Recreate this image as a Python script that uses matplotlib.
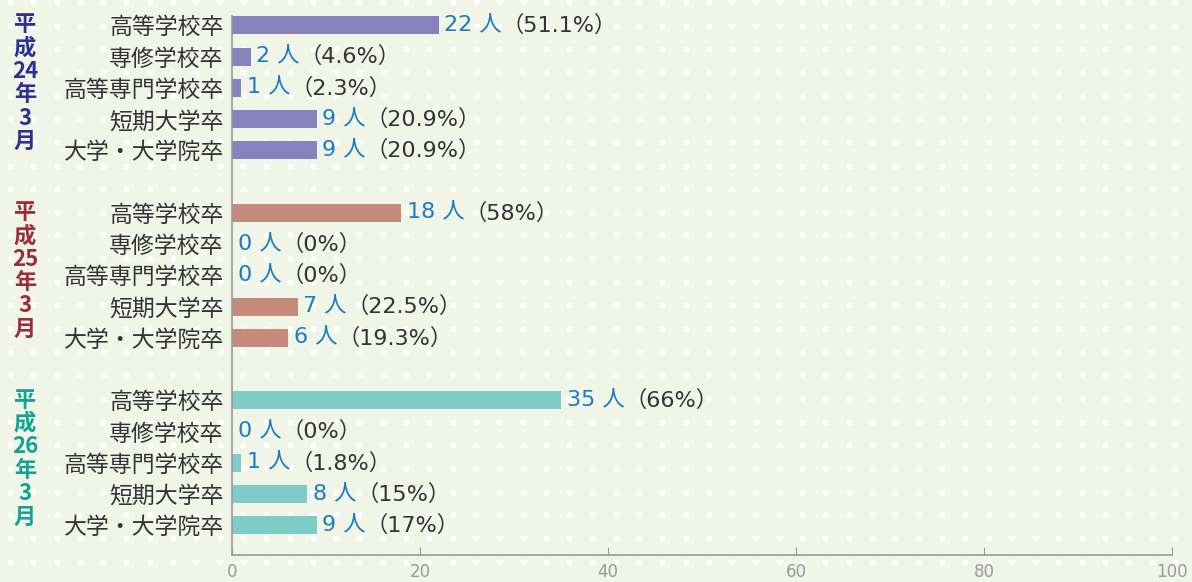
"""
卒業者の学歴別内訳（平成24〜26年3月）の横棒グラフ。
"""
import matplotlib.pyplot as plt
import numpy as np

plt.rcParams["font.family"] = ["Noto Sans CJK JP", "DejaVu Sans"]
FAM_NUM = ["DejaVu Sans", "Noto Sans CJK JP"]

# データ
GRUPOS = ["平\n成\n24\n年\n3\n月", "平\n成\n25\n年\n3\n月", "平\n成\n26\n年\n3\n月"]
CATEGORIAS = ["高等学校卒", "専修学校卒", "高等専門学校卒", "短期大学卒", "大学・大学院卒"]
VALORES_24 = [22, 2, 1, 9, 9]
VALORES_25 = [18, 0, 0, 7, 6]
VALORES_26 = [35, 0, 1, 8, 9]
PCT_24 = ["51.1%", "4.6%", "2.3%", "20.9%", "20.9%"]
PCT_25 = ["58%", "0%", "0%", "22.5%", "19.3%"]
PCT_26 = ["66%", "0%", "1.8%", "15%", "17%"]
XTICKS = [0, 20, 40, 60, 80, 100]

CORES_BARRA = ["#8981bd", "#c48b7d", "#7ecdc8"]
CORES_GRUPO = ["#2e3192", "#9b2d3d", "#12a393"]
AZUL = "#1a7cc1"
CINZA_TXT = "#333333"
CINZA_EIXO = "#9a9a9a"
FUNDO = "#f0f5e8"

W, H = 1192, 582
fig = plt.figure(figsize=(W / 100, H / 100), dpi=100, facecolor=FUNDO)

# fundo pontilhado
bg = fig.add_axes([0, 0, 1, 1], zorder=0)
bg.set_xlim(0, W); bg.set_ylim(H, 0); bg.axis("off")
px = np.arange(10, W, 23.3)
py = np.arange(2.4, H, 23.3)
gx, gy = np.meshgrid(px, py)
bg.scatter(gx.ravel(), gy.ravel(), s=19, color="white", linewidths=0)

ax = fig.add_axes([232 / W, 1 - 555 / H, 940 / W, (555 - 16) / H], zorder=1)
ax.set_facecolor("none")

valores = [VALORES_24, VALORES_25, VALORES_26]
pcts = [PCT_24, PCT_25, PCT_26]
ylabels, yticks = [], []
for g in range(3):
    base = g * 6
    ys = [base + i for i in range(len(CATEGORIAS))]
    ax.barh(ys, valores[g], height=0.58, color=CORES_BARRA[g], zorder=2)
    for y, v, p in zip(ys, valores[g], pcts[g]):
        t = ax.annotate(f"{v} 人", xy=(v, y), xytext=(4, 0), textcoords="offset points",
                        va="center", ha="left", fontsize=16, color=AZUL, family=FAM_NUM)
        ax.annotate(f"（{p}）", xy=(1, 0.5), xycoords=t, va="center", ha="left",
                    fontsize=16, color=CINZA_TXT, family=FAM_NUM)
    ylabels += CATEGORIAS
    yticks += ys
    fig.text(25 / W, 1 - (base * 31.3 + 83) / H, GRUPOS[g], ha="center", va="center",
             fontsize=16, fontweight="bold", color=CORES_GRUPO[g], linespacing=1.02)

ax.set_yticks(yticks)
ax.set_yticklabels(ylabels, fontsize=16.5, color=CINZA_TXT)
ax.set_ylim(16.95, -0.3)
ax.set_xlim(0, 100)
ax.set_xticks(XTICKS)
ax.set_xticklabels([str(x) for x in XTICKS], family=FAM_NUM)
ax.tick_params(axis="y", length=0, pad=6)
ax.tick_params(axis="x", direction="in", length=6, color=CINZA_EIXO, labelcolor=CINZA_EIXO,
               labelsize=12, pad=6)
for lado in ["top", "right"]:
    ax.spines[lado].set_visible(False)
for lado in ["left", "bottom"]:
    ax.spines[lado].set_color(CINZA_EIXO)
    ax.spines[lado].set_linewidth(1.2)

fig.savefig("out.png", dpi=100, facecolor=FUNDO)
